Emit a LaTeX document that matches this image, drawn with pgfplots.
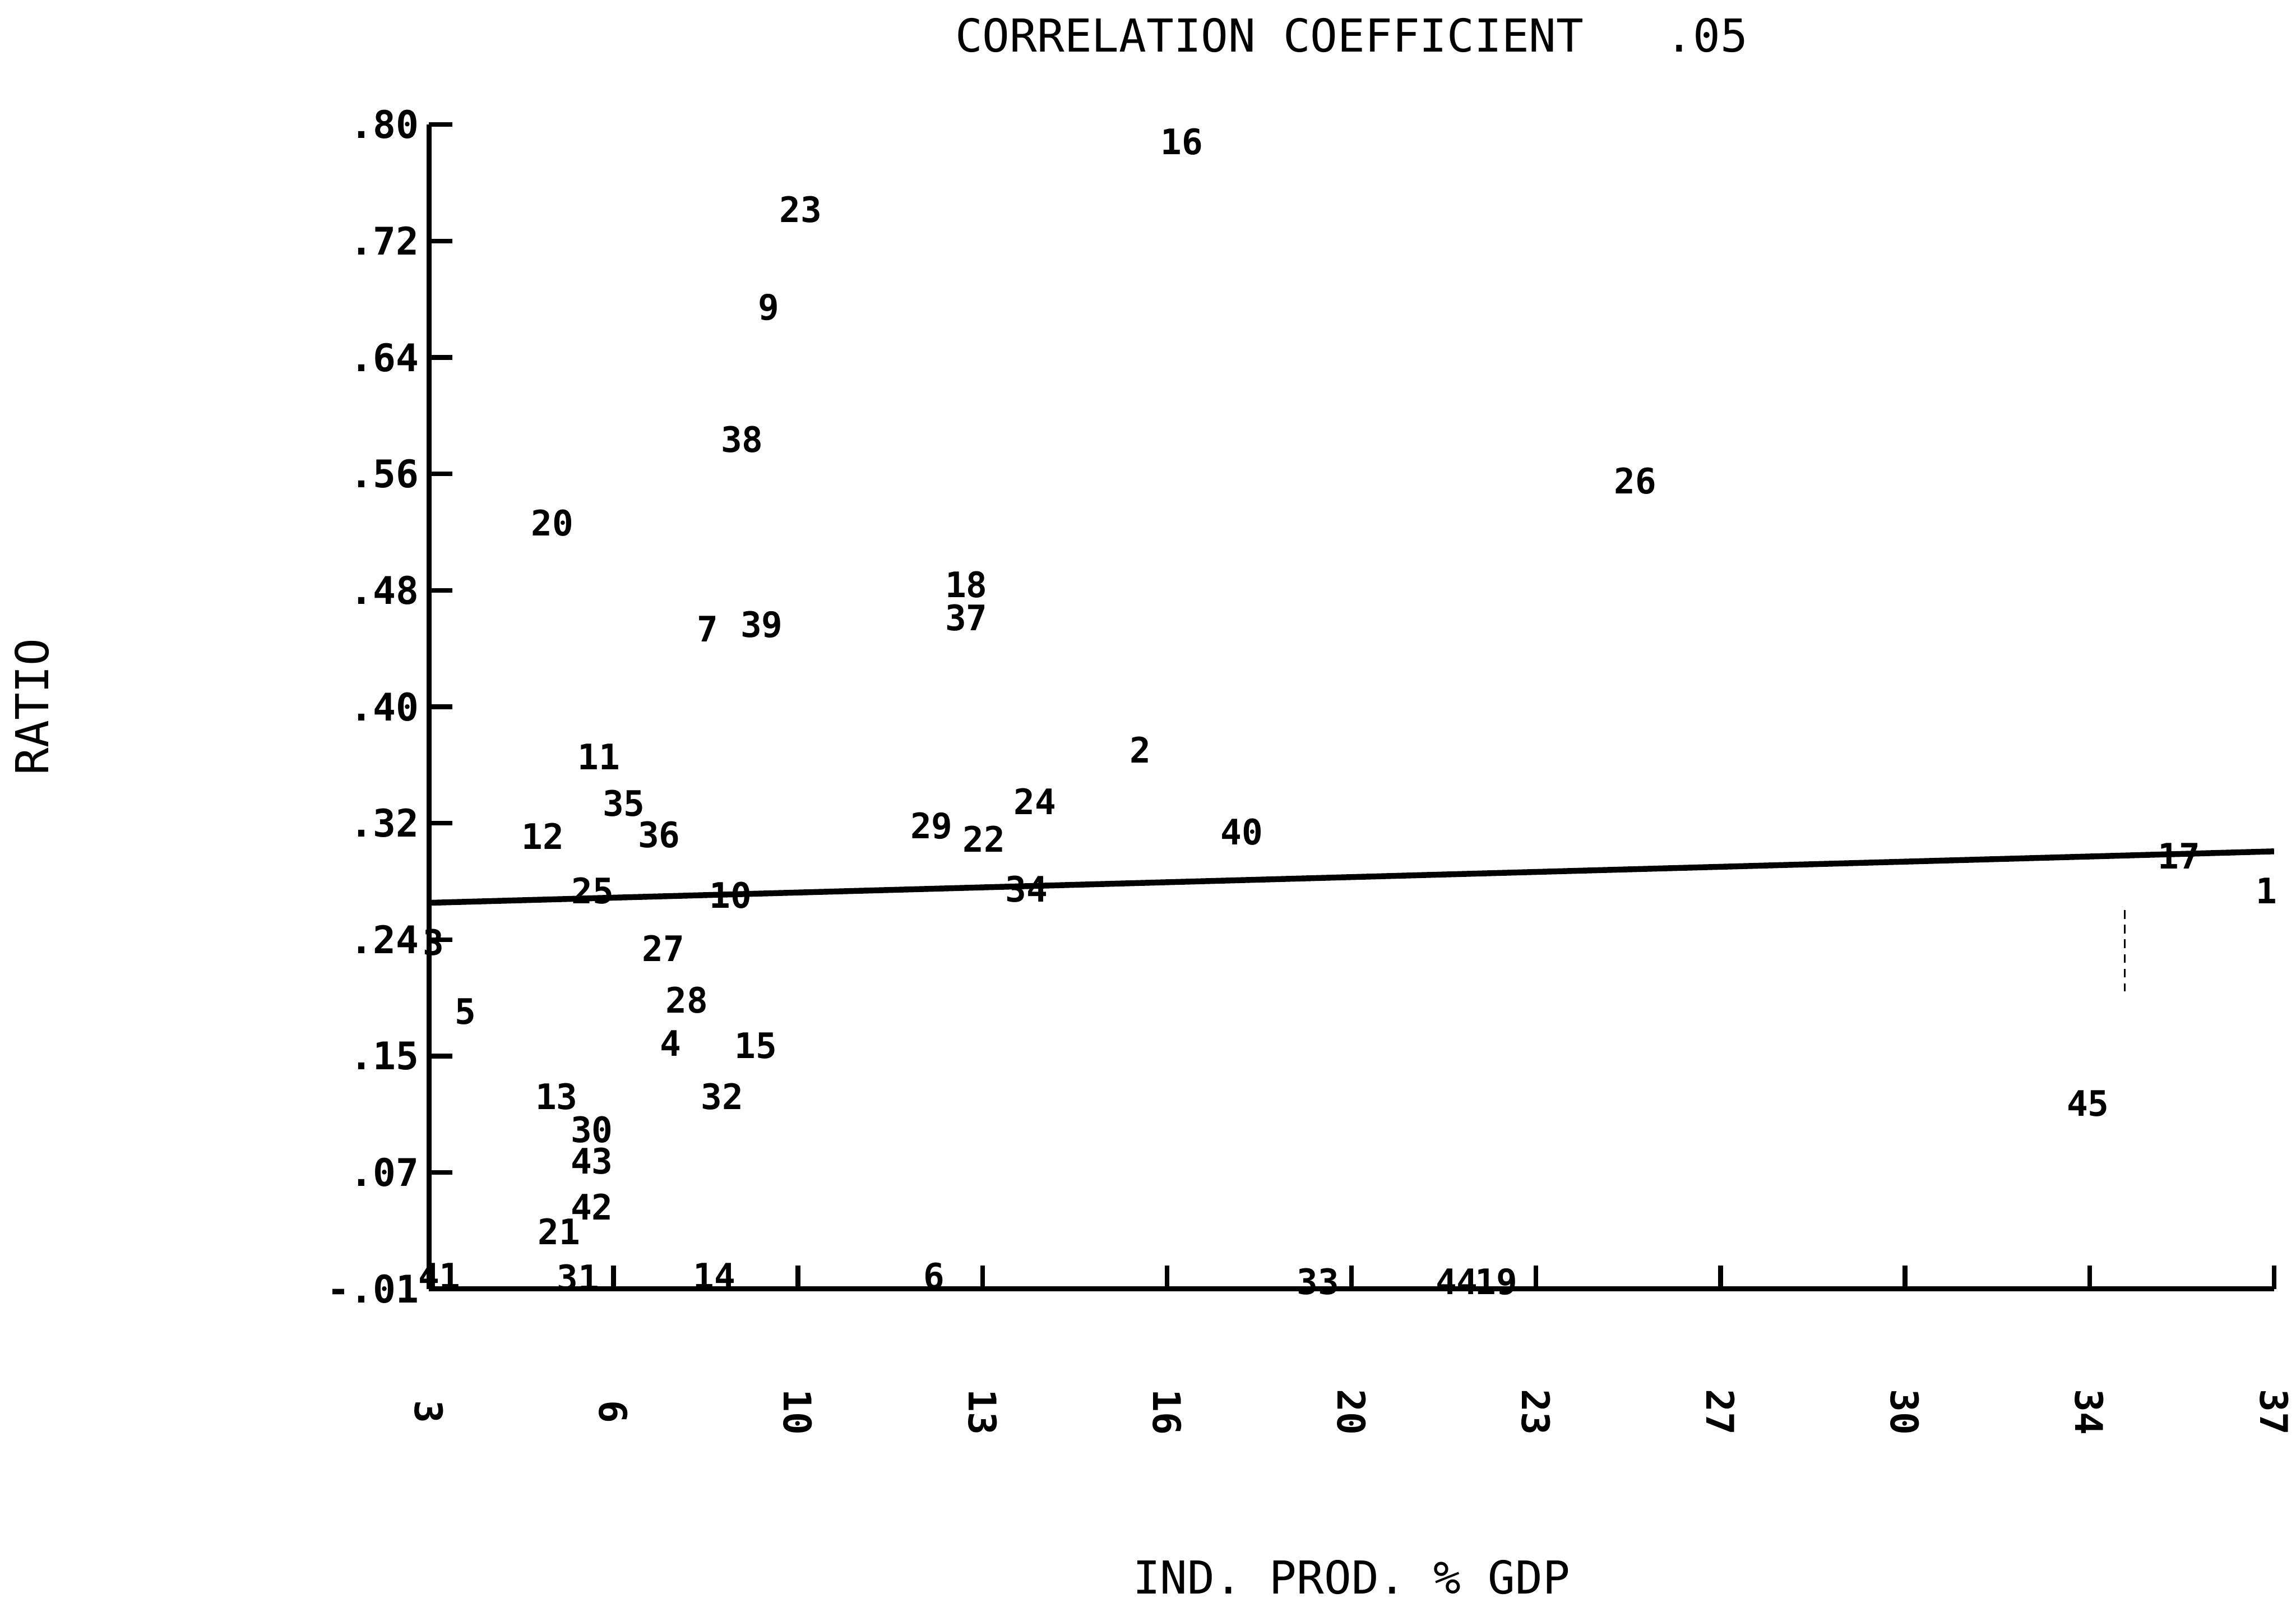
\documentclass[border=0pt]{standalone}
\usepackage{pgfplots}
\usepackage{pgfplotstable}
\pgfplotsset{compat=1.18}
\usepackage{fontspec}
\setmainfont{DejaVu Sans Mono}
\pgfplotstableread{
x y lab
16.87 0.788 16
9.85 0.741 23
9.26 0.673 9
8.77 0.581 38
25.23 0.552 26
5.27 0.523 20
12.90 0.480 18
12.90 0.457 37
8.13 0.449 7
9.13 0.452 39
6.13 0.360 11
16.11 0.365 2
6.59 0.328 35
14.17 0.329 24
5.10 0.305 12
7.24 0.306 36
12.26 0.312 29
13.23 0.303 22
17.98 0.308 40
6.02 0.267 25
8.56 0.264 10
14.01 0.268 34
35.25 0.291 17
36.86 0.267 1
3.08 0.231 3
7.32 0.227 27
3.67 0.183 5
7.75 0.191 28
7.45 0.161 4
9.02 0.159 15
5.35 0.124 13
8.40 0.124 32
33.57 0.119 45
6.00 0.101 30
6.00 0.079 43
6.00 0.047 42
5.40 0.030 21
3.19 -0.001 41
5.75 -0.002 31
8.26 -0.001 14
12.31 -0.001 6
19.38 -0.005 33
21.94 -0.005 44
22.67 -0.005 19
}\pts
\begin{document}
\begin{tikzpicture}
\begin{axis}[
  scale only axis, width=630pt, height=397.5pt,
  xmin=3, xmax=37, ymin=-0.01, ymax=0.80,
  axis x line=bottom, axis y line=left,
  axis line style={line width=1.8pt, -},
  tick align=inside, major tick length=8pt,
  tick style={line width=1.6pt, black},
  xtick={3,6.4,9.8,13.2,16.6,20,23.4,26.8,30.2,33.6,37},
  xticklabels={3,6,10,13,16,20,23,27,30,34,37},
  ytick={-0.01,0.071,0.152,0.233,0.314,0.395,0.476,0.557,0.638,0.719,0.80},
  yticklabels={-.01,.07,.15,.24,.32,.40,.48,.56,.64,.72,.80},
  xticklabel style={rotate=-90, anchor=center, font=\fontsize{13}{13}\selectfont\bfseries},
  xticklabel shift=42pt,
  yticklabel style={font=\fontsize{13}{13}\selectfont\bfseries},
  every axis title shift=0pt,
  title={CORRELATION COEFFICIENT~~~.05},
  title style={at={(axis description cs:0.5,1.0767)}, anchor=center, yshift=0pt, font=\fontsize{15.5}{15.5}\selectfont},
  xlabel={IND. PROD. \% GDP},
  xlabel style={at={(axis description cs:0.5,-0.2478)}, anchor=center, font=\fontsize{15.5}{15.5}\selectfont},
  ylabel={RATIO},
  ylabel style={at={(axis description cs:-0.2151,0.5)}, anchor=center, font=\fontsize{15.5}{15.5}\selectfont},
  clip=false,
]
\addplot[draw=none, mark=none, nodes near coords, point meta=explicit symbolic,
  nodes near coords align={center},
  every node near coord/.append style={font=\fontsize{12}{12}\selectfont\bfseries, inner sep=0pt, anchor=center}]
  table[x=x, y=y, meta=lab] {\pts};
\addplot[line width=2pt, mark=none] coordinates {(3,0.2586) (37,0.2944)};
\addplot[densely dashed, line width=0.5pt, mark=none] coordinates {(34.25,0.2535) (34.25,0.197)};
\end{axis}
\pgfresetboundingbox
\path[use as bounding box] (-146.5pt,-108.5pt) rectangle (637.5pt,440pt);
\end{tikzpicture}
\end{document}
